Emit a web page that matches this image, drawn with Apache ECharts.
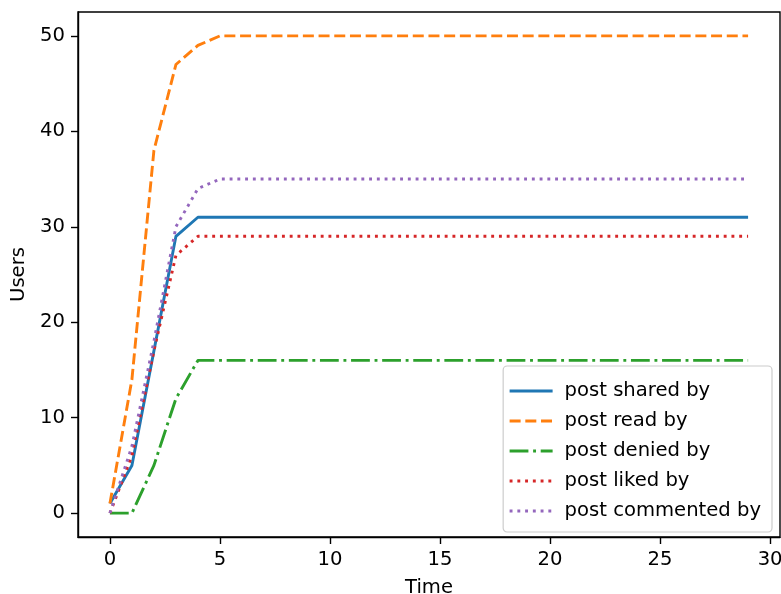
<!DOCTYPE html>
<html>
<head>
<meta charset="utf-8">
<script src="https://cdn.jsdelivr.net/npm/echarts@6/dist/echarts.min.js"></script>
<style>
  html, body { margin: 0; padding: 0; background: #fff; }
  #chart { width: 781px; height: 594px; }
</style>
</head>
<body>
<div id="chart"></div>
<script>
const time = [0, 1, 2, 3, 4, 5, 6, 7, 8, 9, 10, 11, 12, 13, 14, 15, 16, 17, 18, 19, 20, 21, 22, 23, 24, 25, 26, 27, 28, 29];

const sharedBy = [1, 5, 17, 29, 31, 31, 31, 31, 31, 31, 31, 31, 31, 31, 31, 31, 31, 31, 31, 31, 31, 31, 31, 31, 31, 31, 31, 31, 31, 31];
const readBy = [1, 14, 38, 47, 49, 50, 50, 50, 50, 50, 50, 50, 50, 50, 50, 50, 50, 50, 50, 50, 50, 50, 50, 50, 50, 50, 50, 50, 50, 50];
const deniedBy = [0, 0, 5, 12, 16, 16, 16, 16, 16, 16, 16, 16, 16, 16, 16, 16, 16, 16, 16, 16, 16, 16, 16, 16, 16, 16, 16, 16, 16, 16];
const likedBy = [0, 6, 17, 27, 29, 29, 29, 29, 29, 29, 29, 29, 29, 29, 29, 29, 29, 29, 29, 29, 29, 29, 29, 29, 29, 29, 29, 29, 29, 29];
const commentedBy = [0, 7, 18, 30, 34, 35, 35, 35, 35, 35, 35, 35, 35, 35, 35, 35, 35, 35, 35, 35, 35, 35, 35, 35, 35, 35, 35, 35, 35, 35];

const xTicks = [0, 5, 10, 15, 20, 25, 30];
const yTicks = [0, 10, 20, 30, 40, 50];

const font = "DejaVu Sans";
const fs = 19.6;
const lw = 2.9;

const pairs = (ys) => time.map((t, i) => [t, ys[i]]);

const makeSeries = (name, ys, color, dash) => ({
  name: name,
  type: "line",
  data: pairs(ys),
  symbol: "none",
  showSymbol: false,
  color: color,
  lineStyle: { color: color, width: lw, type: dash, cap: "butt", join: "round" },
  emphasis: { disabled: true }
});

const chart = echarts.init(document.getElementById("chart"));

const option = {
  backgroundColor: "#fff",
  animation: false,
  grid: {
    left: 78, top: 12, right: 1, bottom: 57,
    outerBoundsMode: "none",
    containLabel: false,
    show: true, borderColor: "#000", borderWidth: 1.4, backgroundColor: "transparent"
  },
  xAxis: {
    type: "value",
    min: -1.45, max: 30.45,
    name: "Time",
    nameLocation: "middle",
    nameGap: 41,
    nameTextStyle: { fontFamily: font, fontSize: fs, color: "#000" },
    axisLine: { show: true, onZero: false, lineStyle: { color: "#000", width: 1.4 } },
    axisTick: { show: true, length: 7, customValues: xTicks, lineStyle: { color: "#000", width: 1.4 } },
    axisLabel: { customValues: xTicks, margin: 13, fontFamily: font, fontSize: fs, color: "#000" },
    splitLine: { show: false }
  },
  yAxis: {
    type: "value",
    min: -2.5, max: 52.5,
    name: "Users",
    nameLocation: "middle",
    nameGap: 47.5,
    nameTextStyle: { fontFamily: font, fontSize: fs, color: "#000" },
    axisLine: { show: true, onZero: false, lineStyle: { color: "#000", width: 1.4 } },
    axisTick: { show: true, length: 7, customValues: yTicks, lineStyle: { color: "#000", width: 1.4 } },
    axisLabel: { customValues: yTicks, margin: 13, fontFamily: font, fontSize: fs, color: "#000" },
    splitLine: { show: false }
  },
  legend: {
    orient: "vertical",
    right: 9,
    bottom: 62,
    itemWidth: 43,
    itemHeight: 14,
    itemGap: 10,
    padding: [15, 11, 11, 5],
    backgroundColor: "rgba(255,255,255,0.8)",
    borderColor: "#cccccc",
    borderWidth: 1.2,
    borderRadius: 4,
    selectedMode: false,
    itemStyle: { opacity: 0, borderWidth: 0 },
    lineStyle: { width: lw },
    textStyle: { fontFamily: font, fontSize: fs, color: "#000", padding: [0, 0, 0, 7] },
    data: ["post shared by", "post read by", "post denied by", "post liked by", "post commented by"]
  },
  series: [
    makeSeries("post shared by", sharedBy, "#1f77b4", "solid"),
    makeSeries("post read by", readBy, "#ff7f0e", [11, 4.7]),
    makeSeries("post denied by", deniedBy, "#2ca02c", [18.8, 4.7, 2.9, 4.7]),
    makeSeries("post liked by", likedBy, "#d62728", [2.9, 4.85]),
    makeSeries("post commented by", commentedBy, "#9467bd", [2.9, 4.85])
  ]
};

chart.setOption(option);
</script>
</body>
</html>
